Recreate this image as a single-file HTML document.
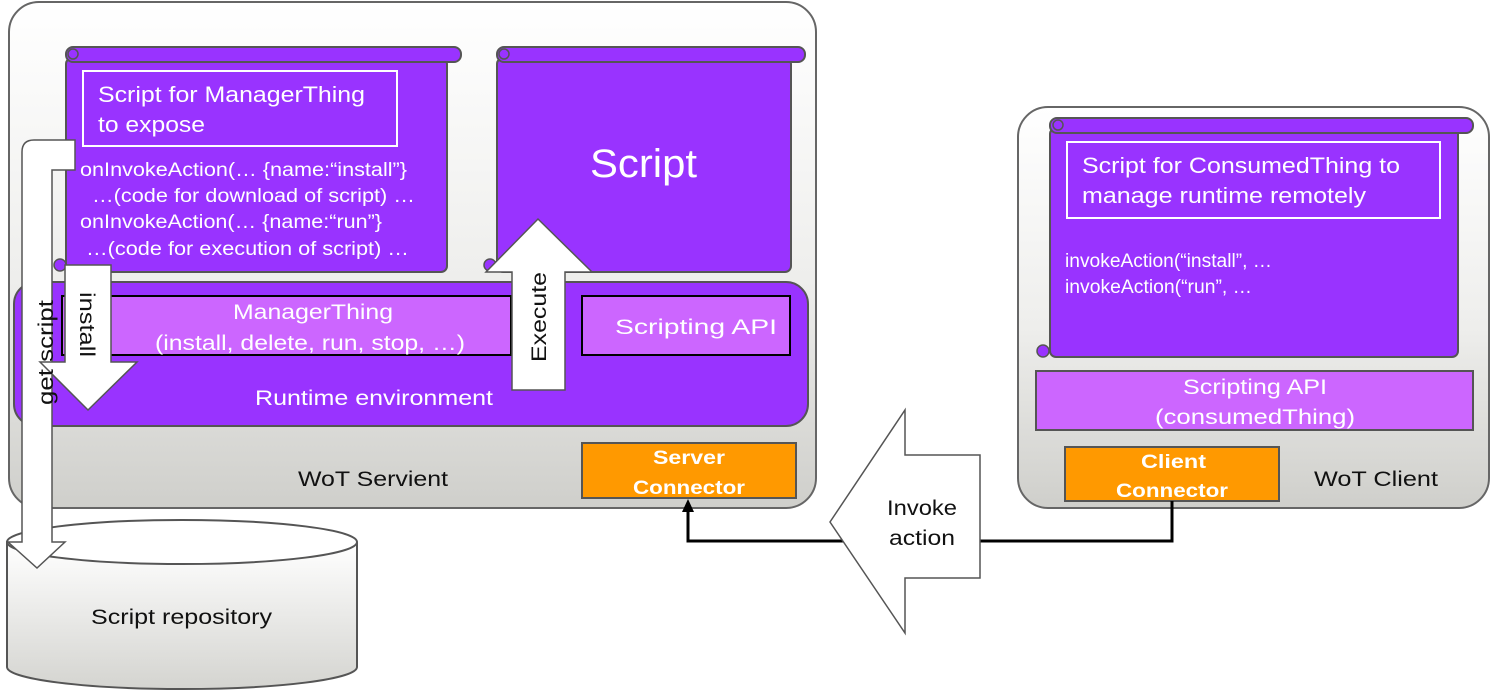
<!DOCTYPE html>
<html><head><meta charset="utf-8"><style>html,body{margin:0;padding:0;background:#fff}svg{display:block}text{font-family:"Liberation Sans",sans-serif}</style></head><body>
<svg width="1490" height="695" viewBox="0 0 1490 695" xmlns="http://www.w3.org/2000/svg">
<defs>
<linearGradient id="g" x1="0" y1="0" x2="0" y2="1"><stop offset="0" stop-color="#ffffff"/><stop offset="0.55" stop-color="#eeeeec"/><stop offset="1" stop-color="#cfcfcb"/></linearGradient>
<linearGradient id="c" x1="0" y1="0" x2="0" y2="1"><stop offset="0" stop-color="#ffffff"/><stop offset="1" stop-color="#d4d4d0"/></linearGradient>
</defs>
<rect x="9" y="2" width="807" height="506" rx="30" fill="url(#g)" stroke="#666" stroke-width="2"/>
<rect x="66" y="58" width="381" height="214" rx="6" fill="#9933ff" stroke="#555" stroke-width="2"/>
<rect x="66" y="47" width="395" height="15" rx="7" fill="#9933ff" stroke="#555" stroke-width="2"/>
<circle cx="73" cy="54" r="5" fill="none" stroke="#555" stroke-width="1.5"/>
<circle cx="60" cy="265" r="6" fill="#9933ff" stroke="#555" stroke-width="1.5"/>
<rect x="83" y="71" width="314" height="75" fill="none" stroke="#fff" stroke-width="2"/>
<text x="98" y="102" font-size="22" fill="#fff" textLength="267" lengthAdjust="spacingAndGlyphs">Script for ManagerThing</text>
<text x="98" y="132" font-size="22" fill="#fff" textLength="107" lengthAdjust="spacingAndGlyphs">to expose</text>
<g font-size="19" fill="#fff">
<text x="80" y="176" textLength="327" lengthAdjust="spacingAndGlyphs">onInvokeAction(…  {name:“install”}</text>
<text x="92" y="202" textLength="323" lengthAdjust="spacingAndGlyphs">…(code for download  of script) …</text>
<text x="80" y="228" textLength="302" lengthAdjust="spacingAndGlyphs">onInvokeAction(…  {name:“run”}</text>
<text x="86" y="255" textLength="323" lengthAdjust="spacingAndGlyphs">…(code for execution  of script) …</text>
</g>
<rect x="497" y="58" width="294" height="214" rx="6" fill="#9933ff" stroke="#555" stroke-width="2"/>
<rect x="497" y="47" width="308" height="15" rx="7" fill="#9933ff" stroke="#555" stroke-width="2"/>
<circle cx="504" cy="54" r="5" fill="none" stroke="#555" stroke-width="1.5"/>
<circle cx="490" cy="265" r="6" fill="#9933ff" stroke="#555" stroke-width="1.5"/>
<text x="590" y="177" font-size="40" fill="#fff" textLength="107" lengthAdjust="spacingAndGlyphs">Script</text>
<rect x="14" y="282" width="794" height="144" rx="22" fill="#9933ff" stroke="#555" stroke-width="2"/>
<rect x="62" y="296" width="449" height="59" fill="#cc66ff" stroke="#000" stroke-width="2"/>
<text x="233" y="319" font-size="21" fill="#fff" textLength="160" lengthAdjust="spacingAndGlyphs">ManagerThing</text>
<text x="155" y="350" font-size="21" fill="#fff" textLength="310" lengthAdjust="spacingAndGlyphs">(install, delete, run, stop, …)</text>
<rect x="582" y="296" width="208" height="59" fill="#cc66ff" stroke="#000" stroke-width="2"/>
<text x="615" y="334" font-size="21" fill="#fff" textLength="162" lengthAdjust="spacingAndGlyphs">Scripting API</text>
<text x="255" y="405" font-size="21" fill="#fff" textLength="238" lengthAdjust="spacingAndGlyphs">Runtime environment</text>
<rect x="582" y="443" width="214" height="55" fill="#ff9900" stroke="#555" stroke-width="2"/>
<text x="653" y="464" font-size="19" font-weight="bold" fill="#fff" textLength="72" lengthAdjust="spacingAndGlyphs">Server</text>
<text x="633" y="494" font-size="19" font-weight="bold" fill="#fff" textLength="112" lengthAdjust="spacingAndGlyphs">Connector</text>
<text x="298" y="486" font-size="21" fill="#111" textLength="150" lengthAdjust="spacingAndGlyphs">WoT Servient</text>
<path d="M7 542 V667 A175 22 0 0 0 357 667 V542" fill="url(#c)" stroke="#555" stroke-width="2"/>
<ellipse cx="182" cy="542" rx="175" ry="22" fill="#fff" stroke="#555" stroke-width="2"/>
<text x="91" y="624" font-size="21" fill="#111" textLength="181" lengthAdjust="spacingAndGlyphs">Script repository</text>
<path d="M75 140 V170 H52 V542 H65 L37 568 L8 542 H22 V152 Q22 140 34 140 Z" fill="#fff" stroke="#555" stroke-width="1.5"/>
<path d="M65 265 H111 V362 H137 L88 410 L40 362 H65 Z" fill="#fff" stroke="#555" stroke-width="1.5"/>
<text transform="translate(80,292) rotate(90)" font-size="21" fill="#111" textLength="65" lengthAdjust="spacingAndGlyphs">install</text>
<text transform="translate(53,405) rotate(-90)" font-size="21" fill="#111" textLength="105" lengthAdjust="spacingAndGlyphs">get script</text>
<path d="M512 390 V272 H486 L538 219 L592 272 H565 V390 Z" fill="#fff" stroke="#555" stroke-width="1.5"/>
<text transform="translate(546,362) rotate(-90)" font-size="21" fill="#111" textLength="90" lengthAdjust="spacingAndGlyphs">Execute</text>
<rect x="1018" y="107" width="471" height="401" rx="30" fill="url(#g)" stroke="#666" stroke-width="2"/>
<rect x="1050" y="128" width="408" height="229" rx="6" fill="#9933ff" stroke="#555" stroke-width="2"/>
<rect x="1050" y="118" width="423" height="15" rx="7" fill="#9933ff" stroke="#555" stroke-width="2"/>
<circle cx="1058" cy="125" r="5" fill="none" stroke="#555" stroke-width="1.5"/>
<circle cx="1043" cy="351" r="6" fill="#9933ff" stroke="#555" stroke-width="1.5"/>
<rect x="1067" y="142" width="373" height="76" fill="none" stroke="#fff" stroke-width="2"/>
<text x="1082" y="173" font-size="22" fill="#fff" textLength="318" lengthAdjust="spacingAndGlyphs">Script for ConsumedThing to</text>
<text x="1082" y="203" font-size="22" fill="#fff" textLength="284" lengthAdjust="spacingAndGlyphs">manage runtime remotely</text>
<text x="1065" y="267" font-size="19" fill="#fff" textLength="207" lengthAdjust="spacingAndGlyphs">invokeAction(“install”,  …</text>
<text x="1065" y="293" font-size="19" fill="#fff" textLength="187" lengthAdjust="spacingAndGlyphs">invokeAction(“run”,  …</text>
<rect x="1036" y="371" width="437" height="59" fill="#cc66ff" stroke="#555" stroke-width="2"/>
<text x="1183" y="394" font-size="21" fill="#fff" textLength="144" lengthAdjust="spacingAndGlyphs">Scripting API</text>
<text x="1155" y="424" font-size="21" fill="#fff" textLength="200" lengthAdjust="spacingAndGlyphs">(consumedThing)</text>
<rect x="1065" y="447" width="214" height="54" fill="#ff9900" stroke="#555" stroke-width="2"/>
<text x="1141" y="468" font-size="19" font-weight="bold" fill="#fff" textLength="65" lengthAdjust="spacingAndGlyphs">Client</text>
<text x="1116" y="497" font-size="19" font-weight="bold" fill="#fff" textLength="112" lengthAdjust="spacingAndGlyphs">Connector</text>
<text x="1314" y="486" font-size="21" fill="#111" textLength="124" lengthAdjust="spacingAndGlyphs">WoT Client</text>
<path d="M1172 501 V541 H688 V510" fill="none" stroke="#000" stroke-width="3"/>
<path d="M682 512 L688 499 L694 512 Z" fill="#000"/>
<path d="M980 455 V578 H905 V633 L830 522 L905 410 V455 Z" fill="#fff" stroke="#555" stroke-width="1.5"/>
<text x="887" y="515" font-size="21" fill="#111" textLength="70" lengthAdjust="spacingAndGlyphs">Invoke</text>
<text x="889" y="545" font-size="21" fill="#111" textLength="66" lengthAdjust="spacingAndGlyphs">action</text>
</svg>
</body></html>
